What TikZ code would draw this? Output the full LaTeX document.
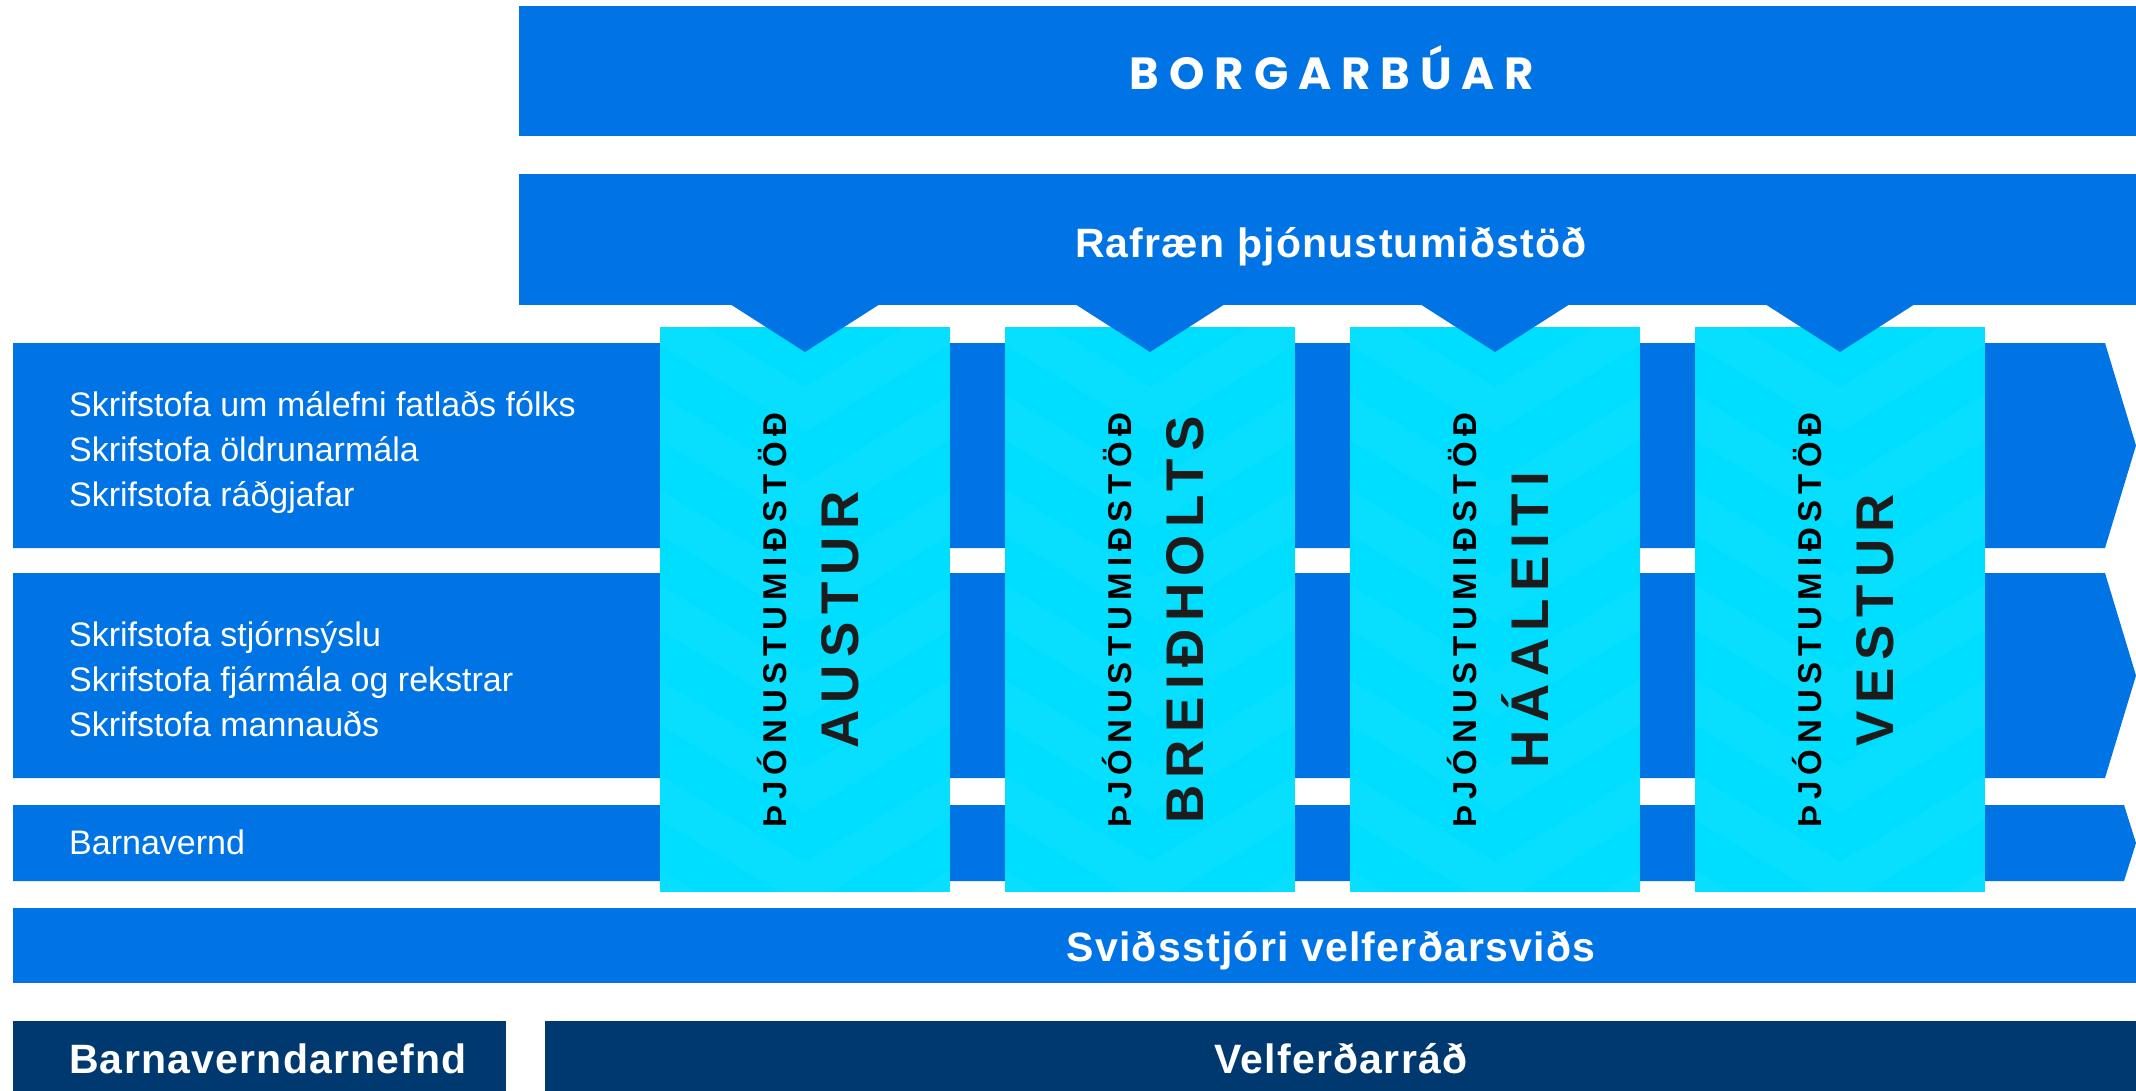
\documentclass[tikz,border=0pt]{standalone}
\usepackage{fontspec}
\setmainfont{Liberation Sans}
\newfontfamily\geofont[LetterSpace=22]{Poppins}

\definecolor{rvkblue}{RGB}{0,116,228}
\definecolor{rvkcyan}{RGB}{0,222,255}
\definecolor{rvknavy}{RGB}{0,57,112}
\definecolor{rvkink}{RGB}{28,28,28}

\begin{document}
\begin{tikzpicture}[x=1pt, y=-1pt,
    band/.style={fill=rvkblue, inner sep=0pt, anchor=north west},
    board/.style={fill=rvknavy, inner sep=0pt, anchor=north west},
    hub/.style={fill=rvkcyan, inner sep=0pt, minimum width=290pt, minimum height=565pt},
    title/.style={text=white, inner sep=0pt, anchor=base,
      font=\fontsize{41}{48}\selectfont\bfseries\addfontfeature{LetterSpace=3}},
    office/.style={text=white, inner sep=0pt, anchor=west, align=left,
      font=\fontsize{34}{45}\selectfont},
    kind/.style={rotate=90, anchor=base, inner sep=0pt, text=black,
      font=\fontsize{33}{40}\selectfont\bfseries\addfontfeature{LetterSpace=18}},
    place/.style={rotate=90, anchor=base, inner sep=0pt, text=rvkink,
      font=\fontsize{53}{60}\selectfont\bfseries\addfontfeature{LetterSpace=14}}]
      \useasboundingbox (0,0) rectangle (2136,1090);
      \fill[white] (0,0) rectangle (2136,1090);
      % top bars
      \node (borg)[band, minimum width=1617pt, minimum height=130pt] at (519, 6) {};
      \node (rafr)[band, minimum width=1617pt, minimum height=131pt] at (519, 174) {};
      % rows with arrow ends
      \fill[rvkblue] (13,343) -- (2105,343) -- (2136,445.5) -- (2105,548) -- (13,548) -- cycle;
      \fill[rvkblue] (13,573) -- (2105,573) -- (2136,675.5) -- (2105,778) -- (13,778) -- cycle;
      \fill[rvkblue] (13,805) -- (2124,805) -- (2136,843) -- (2124,881) -- (13,881) -- cycle;
      \node (svid)[band, minimum width=2123pt, minimum height=75pt] at (13, 908) {};
      \node (bvn)[board, minimum width=493pt, minimum height=70pt] at (13, 1021) {};
      \node (vel)[board, minimum width=1591pt, minimum height=70pt] at (545, 1021) {};
      % service centres
      \foreach \c/\i in {805/1, 1150/2, 1495/3, 1840/4} {
        \node (c\i)[hub] at (\c, 609.5) {};
        \begin{scope}
          \clip (c\i.south west) rectangle (c\i.north east);
          \foreach \k in {0,...,6}
            \fill[white, opacity=.03] (\c-145, 300+95*\k) -- (\c, 387+95*\k) -- (\c+145, 300+95*\k)
              -- (\c+145, 345+95*\k) -- (\c, 432+95*\k) -- (\c-145, 345+95*\k) -- cycle;
        \end{scope}
        \fill[rvkblue] (\c-75, 304) -- (\c+75, 304) -- (\c, 352) -- cycle;
      }
      % labels
      \node (borg-t)[text=white, inner sep=0pt, anchor=base,
        font=\geofont\bfseries\fontsize{45}{50}\selectfont] at (1332, 89) {BORGARBÚAR};
      \node (rafr-t)[title] at (1331, 257) {Rafræn þjónustumiðstöð};
      \node (svid-t)[title] at (1331, 961) {Sviðsstjóri velferðarsviðs};
      \node (bvn-t)[title, anchor=base west] at (69, 1073) {Barnaverndarnefnd};
      \node (vel-t)[title] at (1341, 1073) {Velferðarráð};
      \node (r1)[office] at (69, 452) {Skrifstofa um málefni fatlaðs fólks\\Skrifstofa öldrunarmála\\Skrifstofa ráðgjafar};
      \node (r2)[office] at (69, 679) {Skrifstofa stjórnsýslu\\Skrifstofa fjármála og rekstrar\\Skrifstofa mannauðs};
      \node (r3)[office, anchor=base west] at (69, 854) {Barnavernd};
      \foreach \c/\nm/\i in {805/AUSTUR/1, 1150/BREIÐHOLTS/2, 1495/HÁALEITI/3, 1840/VESTUR/4} {
        \node (k\i)[kind] at (\c-19, 620) {ÞJÓNUSTUMIÐSTÖÐ};
        \node (p\i)[place] at (\c+53, 620) {\nm};
      }
    \end{tikzpicture}
\end{document}
